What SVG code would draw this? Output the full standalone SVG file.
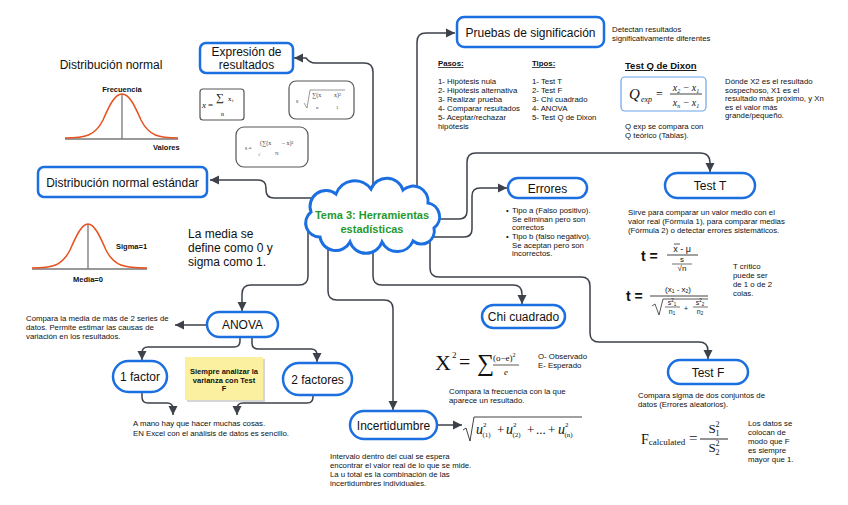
<svg xmlns="http://www.w3.org/2000/svg" width="848" height="505" viewBox="0 0 848 505">
<style>
text{font-family:"Liberation Sans",Arial,sans-serif;fill:#111}
.n{font-size:12px;text-anchor:middle}
.s{font-size:7.8px}
.b{font-weight:bold}
.box{fill:#fff;stroke:#1b6fe0;stroke-width:2.5}
.fb{fill:#fff;stroke:#555;stroke-width:1.2}
.c{fill:none;stroke:#3d424a;stroke-width:1.5}
.m{font-family:"Liberation Serif","Times New Roman",serif}
.curve{fill:none;stroke:#e8501e;stroke-width:1.5}
.ax{stroke:#777;stroke-width:1.3}
</style>
<defs>
<marker id="a" markerUnits="userSpaceOnUse" markerWidth="10" markerHeight="10" refX="9" refY="5" orient="auto">
<path d="M0,0.5 L9,5 L0,9.5 z" fill="#3d424a"/>
</marker>
</defs>
<rect width="848" height="505" fill="#fff"/>

<g id="connectors">
<path class="c" marker-end="url(#a)" d="M373,200 V72 Q373,63 364,63 H315 Q310,63 306,58 H294"/>
<path class="c" marker-end="url(#a)" d="M417,200 V42 Q417,33 426,33 H455"/>
<path class="c" marker-end="url(#a)" d="M320,198 H274 Q266,198 266,190 V188 Q266,180 258,180 H210"/>
<path class="c" marker-end="url(#a)" d="M430,219 H459 Q467,219 467,211 V162 Q467,153 476,153 H700 Q710,153 710,163 V172"/>
<path class="c" marker-end="url(#a)" d="M425,237 H464 Q472,237 472,229 V196 Q472,188 480,188 H507"/>
<path class="c" marker-end="url(#a)" d="M373,235 V276 Q373,285 382,285 H513 Q522,285 522,294 V304"/>
<path class="c" marker-end="url(#a)" d="M430,235 V268 Q430,277 439,277 H581 Q590,277 590,286 V333 Q590,342 599,342 H699 Q708,342 708,351 V359"/>
<path class="c" marker-end="url(#a)" d="M328,235 V291 Q328,300 337,300 H384 Q393,300 393,309 V410"/>
<path class="c" marker-end="url(#a)" d="M308,230 V276 Q308,285 299,285 H251 Q242,285 242,294 V311"/>
<path class="c" marker-end="url(#a)" d="M207,325 H175"/>
<path class="c" marker-end="url(#a)" d="M240,337 V341 Q240,347 234,347 H148 Q142,347 142,353 V360"/>
<path class="c" marker-end="url(#a)" d="M252,337 V343 Q252,349 258,349 H311 Q317,349 317,355 V362"/>
<path class="c" marker-end="url(#a)" d="M142,392 V397 Q142,403 148,403 H167 Q173,403 173,409 V415"/>
<path class="c" marker-end="url(#a)" d="M313,395 V397 Q313,403 307,403 H243 Q237,403 237,409 V415"/>
<path class="c" marker-end="url(#a)" d="M437,425 H462"/>
</g>

<g id="central">
<path d="M320,237 A14,14 0 0 1 311,212 A16,16 0 0 1 336,194 A20,20 0 0 1 371,189 A17,17 0 0 1 403,190 A15,15 0 0 1 428,203 A14,14 0 0 1 434,228 A13,13 0 0 1 413,241 A17,17 0 0 1 382,242 A17,17 0 0 1 350,242 A16,16 0 0 1 320,237 Z" fill="#fff" stroke="#1b6fe0" stroke-width="3"/>
<text x="372" y="219" text-anchor="middle" font-size="11" font-weight="bold" style="fill:#1f9a2e">Tema 3: Herramientas</text>
<text x="372" y="233" text-anchor="middle" font-size="11" font-weight="bold" style="fill:#1f9a2e">estadísticas</text>
</g>

<g id="dist-normal">
<text x="111" y="69" text-anchor="middle" font-size="12">Distribución normal</text>
<line class="ax" x1="65" y1="139" x2="178" y2="139"/>
<line class="ax" x1="122" y1="94" x2="122" y2="139"/>
<path class="curve" d="M65,138 C85,138 95,136 103,120 C110,104 115,94 122,94 C129,94 134,104 141,120 C149,136 159,138 178,138"/>
<text x="122" y="92" text-anchor="middle" font-size="7.5" font-weight="bold">Frecuencia</text>
<text x="153" y="150" font-size="7.5" font-weight="bold">Valores</text>
</g>

<g id="expresion">
<rect class="box" x="200" y="43" width="93" height="30" rx="6"/>
<text class="n" x="246.5" y="56">Expresión de</text>
<text class="n" x="246.5" y="69">resultados</text>
</g>

<g id="formula-media">
<rect class="fb" x="200" y="89" width="44" height="31" rx="3"/>
<text class="m" x="202" y="108" font-size="9" font-style="italic">x</text>
<text class="m" x="208" y="108" font-size="9">=</text>
<text class="m" x="216" y="101" font-size="11">∑</text>
<text class="m" x="228" y="101" font-size="7">x</text>
<text class="m" x="232" y="102" font-size="5">i</text>
<text class="m" x="221" y="116" font-size="6">n</text>
</g>

<g id="formula-s1">
<rect class="fb" x="289" y="81" width="65" height="38" rx="7"/>
<text class="m" x="296" y="103" font-size="6" style="fill:#444">s</text>
<path d="M304,103 L307,108 L310,90 H345" fill="none" stroke="#555" stroke-width="0.6"/>
<text class="m" x="312" y="97" font-size="6" style="fill:#444">∑(x</text>
<text class="m" x="334" y="97" font-size="6" style="fill:#444">x)²</text>
<text class="m" x="316" y="109" font-size="5" style="fill:#444">n</text>
<text class="m" x="336" y="109" font-size="5" style="fill:#444">1</text>
</g>

<g id="formula-s2">
<rect class="fb" x="236" y="127" width="72" height="40" rx="8"/>
<text class="m" x="245" y="150" font-size="5.5" style="fill:#444">s =</text>
<text class="m" x="260" y="145" font-size="6" style="fill:#444">(∑(x</text>
<text class="m" x="282" y="145" font-size="6" style="fill:#444">– x)²</text>
<text class="m" x="258" y="156" font-size="4.5" style="fill:#444">√</text>
<text class="m" x="275" y="155" font-size="5" style="fill:#444">N</text>
</g>

<g id="dist-estandar">
<rect class="box" x="38" y="167" width="169" height="30" rx="6"/>
<text class="n" x="122.5" y="187">Distribución normal estándar</text>
</g>

<g id="curva-estandar">
<line class="ax" x1="32" y1="269" x2="147" y2="269"/>
<line class="ax" x1="88" y1="224" x2="88" y2="269"/>
<path class="curve" d="M32,268 C52,268 62,266 70,250 C77,234 82,224 88,224 C94,224 99,234 106,250 C114,266 124,268 147,268"/>
<text x="116" y="249" font-size="7.5" font-weight="bold">Sigma=1</text>
<text x="88" y="282" text-anchor="middle" font-size="7.5" font-weight="bold">Media=0</text>
<text x="188" y="238" font-size="12">La media se</text>
<text x="188" y="252" font-size="12">define como 0 y</text>
<text x="188" y="266" font-size="12">sigma como 1.</text>
</g>

<g id="pruebas">
<rect class="box" x="457" y="17" width="147" height="30" rx="7"/>
<text class="n" x="530.5" y="37">Pruebas de significación</text>
<text class="s" x="612" y="32">Detectan resultados</text>
<text class="s" x="612" y="41">significativamente diferentes</text>
<text class="s b" x="438" y="66" text-decoration="underline">Pasos:</text>
<text class="s" x="438" y="84">1- Hipótesis nula</text>
<text class="s" x="438" y="93">2- Hipótesis alternativa</text>
<text class="s" x="438" y="102">3- Realizar prueba</text>
<text class="s" x="438" y="111">4- Comparar resultados</text>
<text class="s" x="438" y="120">5- Aceptar/rechazar</text>
<text class="s" x="438" y="129">hipótesis</text>
<text class="s b" x="532" y="66" text-decoration="underline">Tipos:</text>
<text class="s" x="532" y="84">1- Test T</text>
<text class="s" x="532" y="93">2- Test F</text>
<text class="s" x="532" y="102">3- Chi cuadrado</text>
<text class="s" x="532" y="111">4- ANOVA</text>
<text class="s" x="532" y="120">5- Test Q de Dixon</text>
</g>

<g id="dixon">
<text x="625" y="69" font-size="9.5" font-weight="bold" text-decoration="underline">Test Q de Dixon</text>
<rect x="621" y="77" width="85" height="34" rx="4" fill="#fff" stroke="#6aa3ec" stroke-width="1.2"/>
<text class="m" x="629" y="99" font-size="15" font-style="italic">Q</text>
<text class="m" x="641" y="102" font-size="8" font-style="italic">exp</text>
<text class="m" x="656" y="98" font-size="12">=</text>
<line x1="670" y1="94" x2="702" y2="94" stroke="#111" stroke-width="0.8"/>
<text class="m" x="686" y="91" font-size="10" font-style="italic" text-anchor="middle">x<tspan font-size="6" dy="2">2</tspan><tspan dy="-2"> − x</tspan><tspan font-size="6" dy="2">1</tspan></text>
<text class="m" x="686" y="106" font-size="10" font-style="italic" text-anchor="middle">x<tspan font-size="6" dy="2">n</tspan><tspan dy="-2"> − x</tspan><tspan font-size="6" dy="2">1</tspan></text>
<text class="s" x="625" y="129">Q exp se compara con</text>
<text class="s" x="625" y="138">Q teórico (Tablas).</text>
<text class="s" x="725" y="84">Dónde X2 es el resultado</text>
<text class="s" x="725" y="92.5">sospechoso, X1 es el</text>
<text class="s" x="725" y="101">resultado más próximo, y Xn</text>
<text class="s" x="725" y="109.5">es el valor más</text>
<text class="s" x="725" y="118">grande/pequeño.</text>
</g>

<g id="errores">
<rect class="box" x="508" y="178" width="79" height="20" rx="10"/>
<text class="n" x="547.5" y="192.5">Errores</text>
<text class="s" x="506" y="213">•</text>
<text class="s" x="512" y="213">Tipo a (Falso positivo).</text>
<text class="s" x="512" y="221.5">Se eliminan pero son</text>
<text class="s" x="512" y="230">correctos</text>
<text class="s" x="506" y="239">•</text>
<text class="s" x="512" y="239">Tipo b (falso negativo).</text>
<text class="s" x="512" y="247.5">Se aceptan pero son</text>
<text class="s" x="512" y="256">incorrectos.</text>
</g>

<g id="test-t">
<rect class="box" x="665" y="173" width="90" height="25" rx="12.5"/>
<text class="n" x="710" y="190">Test T</text>
<text class="s" x="628" y="215">Sirve para comparar un valor medio con el</text>
<text class="s" x="628" y="224">valor real (Fórmula 1), para comparar medias</text>
<text class="s" x="628" y="233">(Fórmula 2) o detectar errores sistemáticos.</text>
<text x="641" y="261" font-size="14" font-weight="bold">t  =</text>
<text x="682" y="252" font-size="9" text-anchor="middle">x  - μ</text>
<line x1="674" y1="244" x2="680" y2="244" stroke="#111" stroke-width="0.7"/>
<line x1="667" y1="255" x2="698" y2="255" stroke="#111" stroke-width="0.8"/>
<text x="682" y="262" font-size="8" text-anchor="middle">s</text>
<line x1="672" y1="264" x2="692" y2="264" stroke="#111" stroke-width="0.6"/>
<text x="682" y="271" font-size="8" text-anchor="middle">√n</text>
<text x="626" y="301" font-size="14" font-weight="bold">t  =</text>
<text x="678" y="292" font-size="8" text-anchor="middle">(x<tspan font-size="5" dy="1">1</tspan><tspan dy="-1"> - x</tspan><tspan font-size="5" dy="1">2</tspan><tspan dy="-1">)</tspan></text>
<line x1="650" y1="296" x2="708" y2="296" stroke="#111" stroke-width="0.8"/>
<path d="M652,306 L655,304 L659,315 L663,299 H708" fill="none" stroke="#111" stroke-width="0.7"/>
<text x="672" y="305" font-size="7" text-anchor="middle">s<tspan font-size="4.5" dy="-3">2</tspan><tspan font-size="4.5" dy="4">1</tspan></text>
<line x1="665" y1="307" x2="680" y2="307" stroke="#111" stroke-width="0.6"/>
<text x="672" y="314" font-size="7" text-anchor="middle">n<tspan font-size="4.5" dy="1">1</tspan></text>
<text x="686" y="311" font-size="7" text-anchor="middle">+</text>
<text x="700" y="305" font-size="7" text-anchor="middle">s<tspan font-size="4.5" dy="-3">2</tspan><tspan font-size="4.5" dy="4">2</tspan></text>
<line x1="693" y1="307" x2="708" y2="307" stroke="#111" stroke-width="0.6"/>
<text x="700" y="314" font-size="7" text-anchor="middle">n<tspan font-size="4.5" dy="1">2</tspan></text>
<text class="s" x="733" y="269">T crítico</text>
<text class="s" x="733" y="278">puede ser</text>
<text class="s" x="733" y="287">de 1 o de 2</text>
<text class="s" x="733" y="296">colas.</text>
</g>

<g id="anova">
<rect class="box" x="207" y="312" width="71" height="25" rx="12.5"/>
<text class="n" x="242.5" y="329">ANOVA</text>
<text class="s" x="26" y="321">Compara la media de más de 2 series de</text>
<text class="s" x="26" y="330">datos. Permite estimar las causas de</text>
<text class="s" x="26" y="339">variación en los resultados.</text>
</g>

<g id="factor1">
<rect class="box" x="113" y="361" width="54" height="31" rx="15.5"/>
<text class="n" x="140" y="381">1 factor</text>
</g>

<g id="factor2">
<rect class="box" x="283" y="363" width="69" height="32" rx="16"/>
<text class="n" x="317.5" y="383.5">2 factores</text>
</g>

<g id="nota">
<rect x="187" y="359" width="78" height="43" fill="#bbb" opacity="0.6"/>
<rect x="185" y="357" width="78" height="43" fill="#fbf0a0"/>
<text x="224" y="374" font-size="7.5" font-weight="bold" text-anchor="middle">Siempre analizar la</text>
<text x="224" y="382.5" font-size="7.5" font-weight="bold" text-anchor="middle">varianza con Test</text>
<text x="224" y="391" font-size="7.5" font-weight="bold" text-anchor="middle">F</text>
</g>

<g id="anova-nota">
<text class="s" x="133" y="426">A mano hay que hacer muchas cosas.</text>
<text class="s" x="133" y="436">EN Excel con el análisis de datos es sencillo.</text>
</g>

<g id="chi">
<rect class="box" x="482" y="305" width="83" height="23" rx="11.5"/>
<text class="n" x="523.5" y="321">Chi cuadrado</text>
<text class="m" x="435" y="370" font-size="22">X</text>
<text class="m" x="452" y="358" font-size="9">2</text>
<text class="m" x="459" y="369" font-size="20">=</text>
<text class="m" x="477" y="371" font-size="24">∑</text>
<text class="m" x="493" y="361" font-size="9">(o−e)<tspan font-size="6" dy="-4">2</tspan></text>
<line x1="493" y1="365" x2="519" y2="365" stroke="#111" stroke-width="0.7"/>
<text class="m" x="504" y="375" font-size="9" font-style="italic">e</text>
<text class="s" x="538" y="359">O- Observado</text>
<text class="s" x="538" y="368">E- Esperado</text>
<text class="s" x="449" y="394">Compara la frecuencia con la que</text>
<text class="s" x="449" y="403">aparece un resultado.</text>
</g>

<g id="incertidumbre">
<rect class="box" x="350" y="411" width="87" height="28" rx="14"/>
<text class="n" x="393.5" y="429.5">Incertidumbre</text>
<path d="M463,430 L466,428 L470,441 L474,417 H582" fill="none" stroke="#111" stroke-width="0.8"/>
<text class="m" x="476" y="434" font-size="14" font-style="italic">u<tspan font-size="7" font-style="normal" dy="-7">2</tspan><tspan font-size="7" font-style="normal" dx="-4" dy="10">(1)</tspan></text>
<text class="m" x="497" y="434" font-size="13">+</text>
<text class="m" x="506" y="434" font-size="14" font-style="italic">u<tspan font-size="7" font-style="normal" dy="-7">2</tspan><tspan font-size="7" font-style="normal" dx="-4" dy="10">(2)</tspan></text>
<text class="m" x="527" y="434" font-size="13">+</text>
<text class="m" x="536" y="434" font-size="13">...</text>
<text class="m" x="548" y="434" font-size="13">+</text>
<text class="m" x="558" y="434" font-size="14" font-style="italic">u<tspan font-size="7" font-style="normal" dy="-7">2</tspan><tspan font-size="7" font-style="normal" dx="-4" dy="10">(n)</tspan></text>
<text class="s" x="330" y="459">Intervalo dentro del cual se espera</text>
<text class="s" x="330" y="468">encontrar el valor real de lo que se mide.</text>
<text class="s" x="330" y="477">La u total es la combinación de las</text>
<text class="s" x="330" y="486">incertidumbres individuales.</text>
</g>

<g id="test-f">
<rect class="box" x="668" y="360" width="80" height="24" rx="12"/>
<text class="n" x="708" y="376.5">Test F</text>
<text class="s" x="638" y="398">Compara sigma de dos conjuntos de</text>
<text class="s" x="638" y="407">datos (Errores aleatorios).</text>
<text class="m" x="641" y="444" font-size="14">F<tspan font-size="9" dy="1">calculated</tspan></text>
<text class="m" x="689" y="443" font-size="15">=</text>
<text class="m" x="714" y="433" font-size="13" text-anchor="middle">S<tspan font-size="8" dy="-6">2</tspan><tspan font-size="8" dx="-4" dy="9">1</tspan></text>
<line x1="700" y1="439" x2="728" y2="439" stroke="#111" stroke-width="0.9"/>
<text class="m" x="714" y="452" font-size="13" text-anchor="middle">S<tspan font-size="8" dy="-6">2</tspan><tspan font-size="8" dx="-4" dy="9">2</tspan></text>
<text class="s" x="748" y="426">Los datos se</text>
<text class="s" x="748" y="435">colocan de</text>
<text class="s" x="748" y="444">modo que F</text>
<text class="s" x="748" y="453">es siempre</text>
<text class="s" x="748" y="462">mayor que 1.</text>
</g>
</svg>
